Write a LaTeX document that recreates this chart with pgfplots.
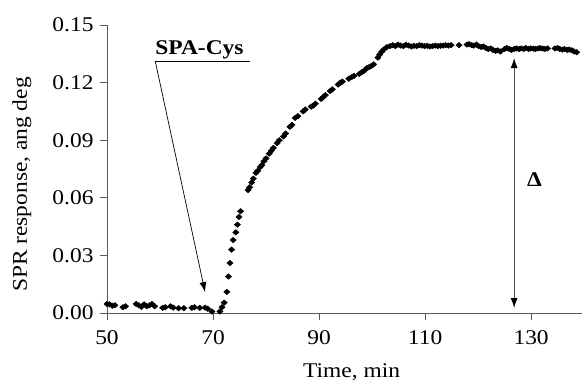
\documentclass[border=0pt]{standalone}
\usepackage{fontspec}
\setmainfont{Liberation Serif}[FakeStretch=1.12]
\usepackage{pgfplots}
\pgfplotsset{compat=1.18}
\usetikzlibrary{arrows.meta}
\pgfplotstableread{
t y
50.0 0.0047
50.5 0.0045
51.0 0.0038
51.5 0.0040
53.0 0.0030
53.5 0.0035
55.5 0.0047
56.0 0.0040
56.5 0.0032
57.0 0.0045
57.5 0.0035
58.0 0.0040
58.5 0.0047
59.0 0.0035
60.5 0.0027
61.0 0.0030
62.0 0.0035
62.5 0.0028
63.5 0.0025
64.5 0.0025
66.0 0.0027
66.5 0.0030
67.5 0.0027
68.5 0.0028
69.0 0.0022
69.8 0.0008
71.3 0.0008
71.7 0.0030
72.1 0.0054
72.6 0.0110
72.9 0.0190
73.2 0.0260
73.5 0.0330
73.8 0.0380
74.3 0.0420
74.6 0.0460
74.9 0.0500
75.2 0.0530
76.6 0.0640
76.9 0.0655
77.3 0.0680
77.6 0.0700
78.1 0.0730
78.4 0.0740
78.9 0.0760
79.2 0.0770
79.6 0.0790
80.0 0.0805
80.6 0.0830
81.0 0.0845
81.4 0.0860
82.1 0.0885
82.5 0.0900
83.3 0.0920
83.7 0.0935
84.5 0.0970
84.9 0.0980
85.5 0.1016
86.0 0.1025
87.0 0.1050
87.4 0.1060
88.5 0.1075
88.9 0.1080
89.3 0.1090
90.4 0.1115
90.8 0.1125
91.2 0.1135
92.1 0.1156
92.5 0.1165
93.6 0.1190
94.0 0.1200
94.4 0.1205
95.6 0.1220
96.2 0.1230
96.6 0.1235
97.6 0.1245
98.1 0.1255
98.5 0.1262
99.0 0.1275
99.4 0.1280
99.8 0.1285
100.3 0.1295
101.1 0.1330
101.4 0.1345
101.8 0.1360
102.2 0.1372
102.8 0.1385
103.4 0.1390
103.9 0.1395
104.4 0.1390
104.9 0.1398
105.4 0.1393
105.9 0.1390
106.4 0.1397
106.9 0.1393
107.4 0.1388
107.9 0.1392
108.4 0.1390
108.9 0.1395
109.4 0.1393
109.9 0.1390
110.4 0.1392
110.9 0.1388
111.4 0.1390
111.9 0.1393
112.4 0.1390
112.9 0.1392
113.4 0.1393
113.9 0.1395
114.4 0.1393
114.9 0.1395
116.4 0.1395
117.9 0.1398
118.3 0.1400
118.8 0.1395
119.2 0.1393
119.7 0.1398
120.1 0.1390
120.6 0.1385
121.0 0.1388
121.5 0.1380
121.9 0.1375
122.4 0.1378
122.8 0.1370
123.3 0.1365
123.7 0.1368
124.2 0.1362
125.0 0.1375
125.4 0.1380
125.9 0.1375
126.3 0.1370
126.8 0.1375
127.2 0.1378
127.7 0.1375
128.1 0.1378
128.6 0.1375
129.0 0.1380
129.5 0.1375
129.9 0.1378
130.4 0.1377
130.8 0.1375
131.3 0.1378
131.7 0.1380
132.2 0.1377
132.6 0.1375
133.1 0.1378
134.5 0.1378
135.0 0.1380
135.4 0.1375
135.9 0.1372
136.3 0.1375
136.8 0.1370
137.2 0.1372
137.7 0.1368
138.1 0.1362
138.6 0.1358
}\spr
\begin{document}
\begin{tikzpicture}
\begin{axis}[
  name=ax,
  scale only axis, width=475bp, height=288bp,
  xmin=50, xmax=139.6, ymin=0, ymax=0.15,
  axis lines=left, axis line style={-, black!65, line width=0.8bp},
  tick align=outside, tick style={black!65, line width=0.8bp},
  major tick length=7bp,
  xtick={50,70,90,110,130},
  ytick={0,0.03,0.06,0.09,0.12,0.15},
  yticklabel style={xshift=-3bp, /pgf/number format/.cd, fixed, fixed zerofill, precision=2},
  xticklabel style={yshift=-7bp},
  /pgf/number format/assume math mode=true,
  tick label style={font=\fontsize{21}{24}\selectfont},
  label style={font=\fontsize{21}{24}\selectfont},
  xlabel={Time, min},
  ylabel={SPR response, ang deg},
  xlabel style={at={(axis description cs:0.515,0)}, anchor=base, yshift=-64bp},
  ylabel style={at={(axis description cs:-0.179,0.446)}, anchor=center},
  clip=false,
]
\addplot[only marks, mark=diamond*, mark size=2.8bp, mark options={xscale=1.5, fill=black, draw=black}] table[x=t, y=y] {\spr};
\node[anchor=base west, inner sep=0, font=\bfseries\fontsize{21}{24}\selectfont] at (axis cs:59.1,0.1344) {SPA-Cys};
\draw[line width=0.7bp] (axis cs:59.1,0.1312) -- (axis cs:77,0.1312);
\draw[line width=0.7bp, -{Latex[length=10bp,width=7bp]}] (axis cs:59.1,0.1312) -- (axis cs:68.5,0.0109);
\draw[line width=1bp, black!70, {Latex[length=10bp,width=7bp,black]}-{Latex[length=10bp,width=7bp,black]}] (axis cs:126.8,0.0026) -- (axis cs:126.8,0.1328);
\node[anchor=west, inner sep=0, font=\bfseries\fontsize{21}{24}\selectfont] at (axis cs:129.2,0.0693) {Δ};
\end{axis}
\pgfresetboundingbox
\path (ax.south west) ++(-107bp,-70bp) rectangle ++(582bp,383bp);
\end{tikzpicture}
\end{document}
